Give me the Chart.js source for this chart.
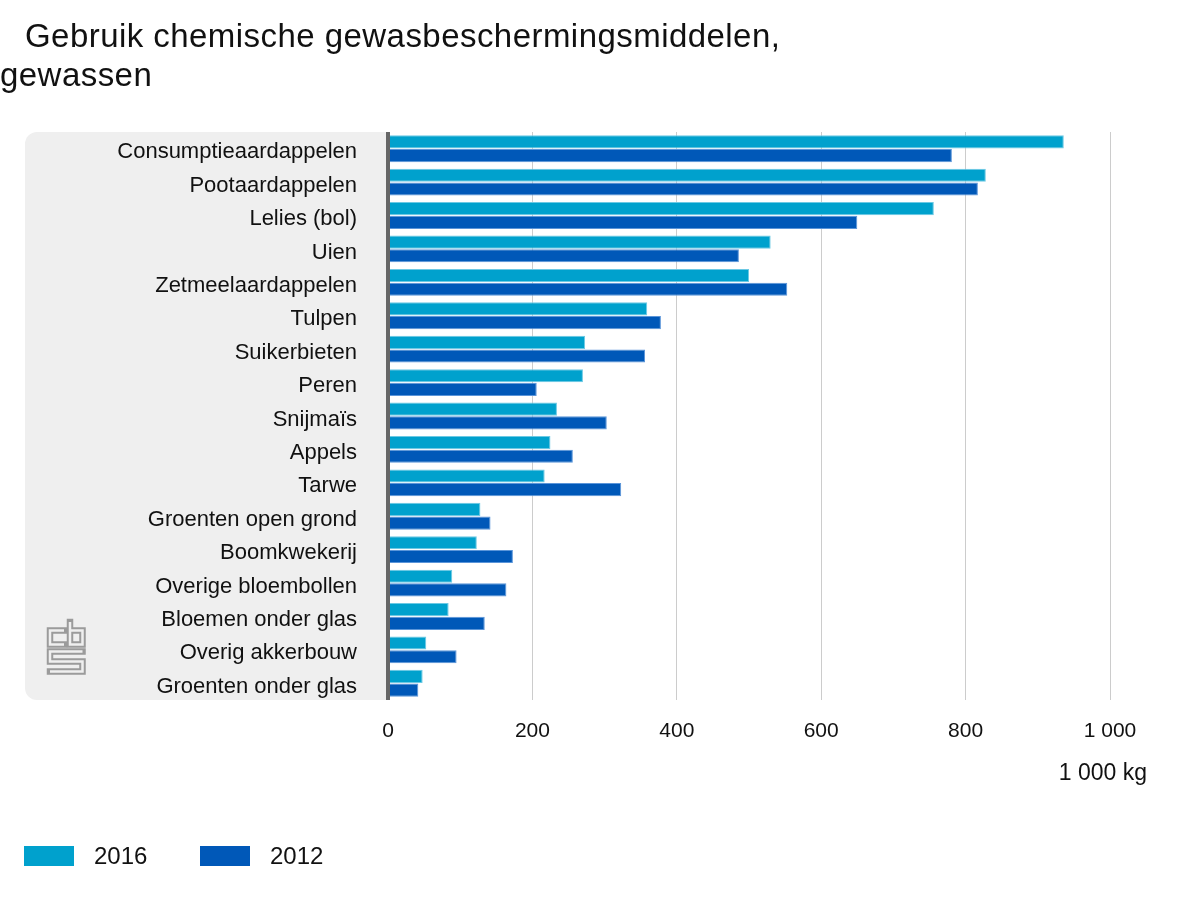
<!DOCTYPE html>
<html>
<head>
<meta charset="utf-8">
<script src="https://cdn.jsdelivr.net/npm/chart.js@4"></script>
<style>
  html, body { margin: 0; padding: 0; background: #fff; }
  #wrap { position: relative; width: 1200px; height: 900px; font-family: 'Liberation Sans', Arial, sans-serif; color: #111; }
  canvas { position: absolute; left: 0; top: 0; }
  .title { position: absolute; left: 0; font-size: 33px; line-height: 40px; letter-spacing: 0.45px; white-space: nowrap; }
  #unit { position: absolute; right: 53px; top: 758px; font-size: 23px; line-height: 28px; white-space: nowrap; }
  #legend { position: absolute; left: 0; top: 840px; width: 600px; height: 40px; }
  .lg-box { position: absolute; top: 6px; width: 50px; height: 20px; }
  .lg-text { position: absolute; top: 0px; font-size: 24px; line-height: 32px; }
</style>
</head>
<body>
<div id="wrap">
  <canvas id="c" width="1200" height="900"></canvas>
  <div class="title" style="top:16px;left:25px;">Gebruik chemische gewasbeschermingsmiddelen,</div>
  <div class="title" style="top:55px;">gewassen</div>
  <div id="unit">1 000 kg</div>
  <div id="legend"></div>
</div>
<script>
const categories = [
  'Consumptieaardappelen', 'Pootaardappelen', 'Lelies (bol)', 'Uien', 'Zetmeelaardappelen',
  'Tulpen', 'Suikerbieten', 'Peren', 'Snijmaïs', 'Appels', 'Tarwe',
  'Groenten open grond', 'Boomkwekerij', 'Overige bloembollen', 'Bloemen onder glas',
  'Overig akkerbouw', 'Groenten onder glas'
];
const values2016 = [936, 828, 756, 530, 500, 359, 273, 270, 234, 225, 217, 128, 123, 89, 84, 53, 48];
const values2012 = [781, 817, 650, 486, 553, 378, 356, 206, 303, 256, 323, 142, 173, 164, 134, 95, 42];
const seriesLabels = ['2016', '2012'];
const xTicks = [0, 200, 400, 600, 800, 1000];

const colors = ['#00a1cd', '#0058b8'];
const borders = ['#6cc9e4', '#5b95d9'];

function fmt(v) {
  return String(v).replace(/\B(?=(\d{3})+(?!\d))/g, ' ');
}

const panelPlugin = {
  id: 'panel',
  beforeDraw(chart) {
    const ctx = chart.ctx, a = chart.chartArea;
    ctx.save();
    ctx.fillStyle = '#efefef';
    ctx.beginPath();
    ctx.roundRect(25, a.top, a.left - 25, a.bottom - a.top, [12, 0, 0, 12]);
    ctx.fill();
    // CBS logo
    const drawDouble = (pts) => {
      ctx.beginPath();
      ctx.moveTo(pts[0][0], pts[0][1]);
      for (let i = 1; i < pts.length; i++) ctx.lineTo(pts[i][0], pts[i][1]);
      ctx.lineJoin = 'miter';
      ctx.lineCap = 'square';
      ctx.strokeStyle = '#9b9b9b';
      ctx.lineWidth = 6.5;
      ctx.stroke();
      ctx.strokeStyle = '#efefef';
      ctx.lineWidth = 2.5;
      ctx.lineCap = 'butt';
      ctx.stroke();
    };
    drawDouble([[64, 630.5], [50, 630.5], [50, 644.5], [64, 644.5]]);
    drawDouble([[70, 622], [70, 644.5], [82.5, 644.5], [82.5, 630.5], [70, 630.5]]);
    drawDouble([[82.5, 651.5], [50, 651.5], [50, 661.5], [82.5, 661.5], [82.5, 671.5], [50, 671.5]]);
    ctx.restore();
  }
};

const axisLinePlugin = {
  id: 'axisLine',
  afterDatasetsDraw(chart) {
    const ctx = chart.ctx, a = chart.chartArea;
    const x0 = chart.scales.x.getPixelForValue(0);
    ctx.save();
    ctx.fillStyle = '#666666';
    ctx.fillRect(x0 - 2, a.top, 4, a.bottom - a.top);
    ctx.restore();
  }
};

new Chart(document.getElementById('c'), {
  type: 'bar',
  data: {
    labels: categories,
    datasets: [
      { label: seriesLabels[0], data: values2016, backgroundColor: colors[0], borderColor: borders[0], borderWidth: 1,
        categoryPercentage: 0.82, barPercentage: 0.96 },
      { label: seriesLabels[1], data: values2012, backgroundColor: colors[1], borderColor: borders[1], borderWidth: 1,
        categoryPercentage: 0.82, barPercentage: 0.96 }
    ]
  },
  options: {
    indexAxis: 'y',
    responsive: false,
    animation: false,
    layout: { padding: { left: 0, right: 90, top: 132, bottom: 140 } },
    plugins: { legend: { display: false }, tooltip: { enabled: false }, title: { display: false } },
    scales: {
      x: {
        min: 0, max: 1000,
        afterBuildTicks(scale) { scale.ticks = xTicks.map(v => ({ value: v })); },
        afterFit(scale) { scale.height = 60; },
        grid: { color: '#cccccc', lineWidth: 1, drawTicks: false },
        border: { display: false },
        ticks: {
          padding: 19, color: '#111',
          font: { family: "'Liberation Sans', Arial, sans-serif", size: 21 },
          callback: (v) => fmt(v), maxRotation: 0, autoSkip: false
        }
      },
      y: {
        afterFit(scale) { scale.width = 388; },
        grid: { display: false, drawTicks: false },
        border: { display: false },
        ticks: {
          padding: 31, color: '#111', autoSkip: false, labelOffset: 3.5,
          font: { family: "'Liberation Sans', Arial, sans-serif", size: 22 }
        }
      }
    }
  },
  plugins: [panelPlugin, axisLinePlugin]
});

// Legend built from the dataset arrays
const lg = document.getElementById('legend');
const lgPos = [[24, 94], [200, 270]];
seriesLabels.forEach((s, i) => {
  const b = document.createElement('div');
  b.className = 'lg-box';
  b.style.left = lgPos[i][0] + 'px';
  b.style.background = colors[i];
  lg.appendChild(b);
  const t = document.createElement('div');
  t.className = 'lg-text';
  t.style.left = lgPos[i][1] + 'px';
  t.textContent = s;
  lg.appendChild(t);
});
</script>
</body>
</html>
